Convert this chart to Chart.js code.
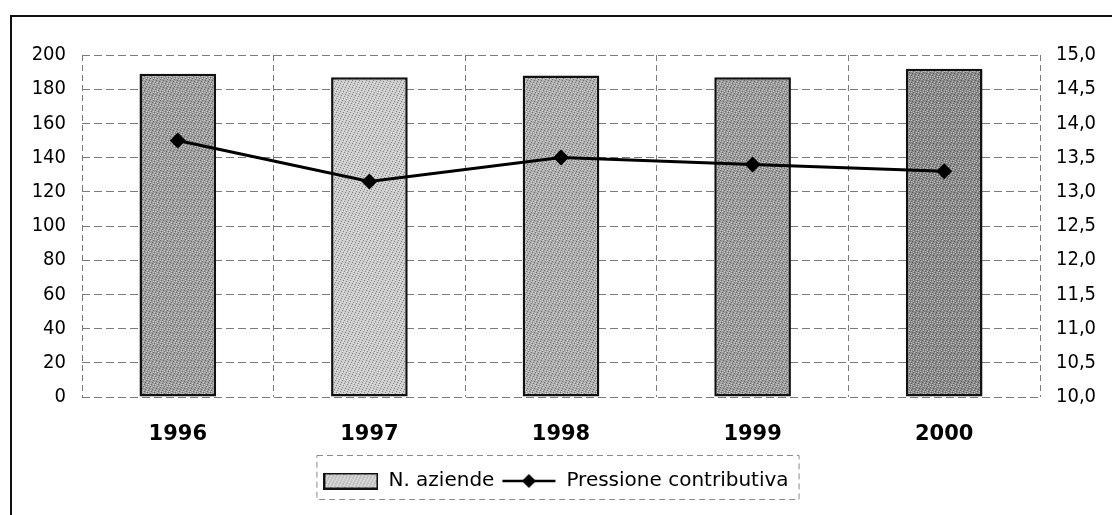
<!DOCTYPE html>
<html>
<head>
<meta charset="utf-8">
<script src="https://cdn.jsdelivr.net/npm/chart.js@4.4.1/dist/chart.umd.min.js"></script>
<style>
  html, body { margin: 0; padding: 0; background: #fff; }
  #wrap { position: relative; width: 1112px; height: 515px; overflow: hidden; }
  #frame {
    position: absolute; left: 10px; top: 15px; width: 1110px; height: 510px;
    border-top: 2px solid #111; border-left: 2px solid #111; pointer-events: none;
  }
</style>
</head>
<body>
<div id="wrap">
  <canvas id="myChart" width="1112" height="515"></canvas>
  <div id="frame"></div>
</div>
<script>
// ========================================
// Dati
// ========================================
const anni = ['1996', '1997', '1998', '1999', '2000'];
const nAziende = [189, 187, 188, 187, 192];
const pressioneContributiva = [13.75, 13.15, 13.5, 13.4, 13.3];
const tickSinistra = [0, 200, 20];   // min, max, passo
const tickDestra = [10, 15, 0.5];

// toni di grigio delle barre (stile, non dati)
const grigiBarre = ['#9e9e9e', '#cbcbcb', '#adadad', '#9c9c9c', '#8a8a8a'];

const FONT = "'DejaVu Sans Condensed', 'DejaVu Sans', sans-serif";
const FONT_WIDE = "'DejaVu Sans', Verdana, sans-serif";

// trama "puntinata" tipo stampa, fissa (niente random)
function makeStipple(base) {
  const c = document.createElement('canvas');
  c.width = 7; c.height = 7;
  const g = c.getContext('2d');
  g.fillStyle = base;
  g.fillRect(0, 0, 7, 7);
  for (let x = 0; x < 7; x++) {
    for (let y = 0; y < 7; y++) {
      if ((x * 3 + y * 5) % 7 === 0) { g.fillStyle = 'rgba(0,0,0,0.35)'; g.fillRect(x, y, 1, 1); }
      else if ((x * 2 + y * 4) % 5 === 1) { g.fillStyle = 'rgba(255,255,255,0.45)'; g.fillRect(x, y, 1, 1); }
    }
  }
  return g.createPattern(c, 'repeat');
}

// simboli della legenda
function legendSwatch() {
  const c = document.createElement('canvas');
  c.width = 55; c.height = 17;
  const g = c.getContext('2d');
  g.fillStyle = makeStipple('#d4d4d4');
  g.fillRect(0, 0, 55, 17);
  g.strokeStyle = '#111';
  g.lineWidth = 2;
  g.strokeRect(1, 1, 53, 15);
  return c;
}

function legendLine() {
  const c = document.createElement('canvas');
  c.width = 55; c.height = 16;
  const g = c.getContext('2d');
  g.strokeStyle = '#000';
  g.lineWidth = 2.5;
  g.beginPath(); g.moveTo(1, 8); g.lineTo(54, 8); g.stroke();
  g.fillStyle = '#000';
  g.beginPath();
  g.moveTo(27.5, 1); g.lineTo(34.5, 8); g.lineTo(27.5, 15); g.lineTo(20.5, 8);
  g.closePath(); g.fill();
  return c;
}

const gridColor = '#7a7a7a';

// riquadro tratteggiato attorno alla legenda
const legendBorder = {
  id: 'legendBorder',
  afterDraw(chart) {
    const lg = chart.legend;
    if (!lg || !lg.legendHitBoxes || !lg.legendHitBoxes.length) return;
    const hb = lg.legendHitBoxes;
    const first = hb[0], last = hb[hb.length - 1];
    const ctx = chart.ctx;
    ctx.save();
    ctx.strokeStyle = '#8a8a8a';
    ctx.lineWidth = 1;
    ctx.setLineDash([6, 4]);
    const x0 = first.left - 7, x1 = last.left + last.width + 10;
    const y0 = first.top - 16, y1 = first.top + first.height + 8;
    ctx.strokeRect(x0 + 0.5, y0 + 0.5, x1 - x0, y1 - y0);
    ctx.restore();
  }
};

const ctx = document.getElementById('myChart');

new Chart(ctx, {
  data: {
    labels: anni,
    datasets: [
      {
        type: 'bar',
        label: 'N. aziende',
        data: nAziende,
        yAxisID: 'ySx',
        backgroundColor: grigiBarre.map(makeStipple),
        borderColor: '#111',
        borderWidth: 2.5,
        borderSkipped: false,
        barPercentage: 0.4,
        categoryPercentage: 1.0,
        order: 2
      },
      {
        type: 'line',
        label: 'Pressione contributiva',
        data: pressioneContributiva,
        yAxisID: 'yDx',
        borderColor: '#000',
        backgroundColor: '#000',
        borderWidth: 3,
        tension: 0,
        pointStyle: 'rectRot',
        pointRadius: 8,
        pointBorderWidth: 0,
        order: 1
      }
    ]
  },
  options: {
    responsive: false,
    animation: false,
    layout: { padding: { top: 55, bottom: 14, left: 0, right: 0 } },
    scales: {
      x: {
        grid: { color: gridColor, drawTicks: false, offset: true },
        border: { display: false, dash: [6, 4] },
        ticks: { color: '#000', padding: 25, font: { family: FONT_WIDE, size: 21, weight: 'bold' } },
        afterFit: (s) => { s.height = 67; }
      },
      ySx: {
        position: 'left',
        min: tickSinistra[0],
        max: tickSinistra[1],
        ticks: { stepSize: tickSinistra[2], color: '#000', padding: 16, font: { family: FONT, size: 20 } },
        grid: { color: gridColor, drawTicks: false },
        border: { display: false, dash: [8, 4] },
        afterFit: (s) => { s.width = 82; }
      },
      yDx: {
        position: 'right',
        min: tickDestra[0],
        max: tickDestra[1],
        ticks: {
          stepSize: tickDestra[2],
          color: '#000',
          padding: 16,
          font: { family: FONT, size: 20 },
          callback: (v) => v.toFixed(1).replace('.', ',')
        },
        grid: { drawOnChartArea: false, drawTicks: false },
        border: { display: false },
        afterFit: (s) => { s.width = 72; }
      }
    },
    plugins: {
      tooltip: { enabled: false },
      legend: {
        position: 'bottom',
        labels: {
          usePointStyle: true,
          pointStyleWidth: 55,
          padding: 7,
          color: '#000',
          font: { family: FONT_WIDE, size: 20 },
          sort: (a, b) => a.datasetIndex - b.datasetIndex,
          generateLabels: (chart) => chart.data.datasets.map((ds, i) => ({
            text: ds.label,
            pointStyle: i === 0 ? legendSwatch() : legendLine(),
            fillStyle: '#000',
            strokeStyle: '#000',
            lineWidth: 0,
            hidden: false,
            datasetIndex: i
          }))
        }
      }
    }
  },
  plugins: [legendBorder]
});
</script>
</body>
</html>
